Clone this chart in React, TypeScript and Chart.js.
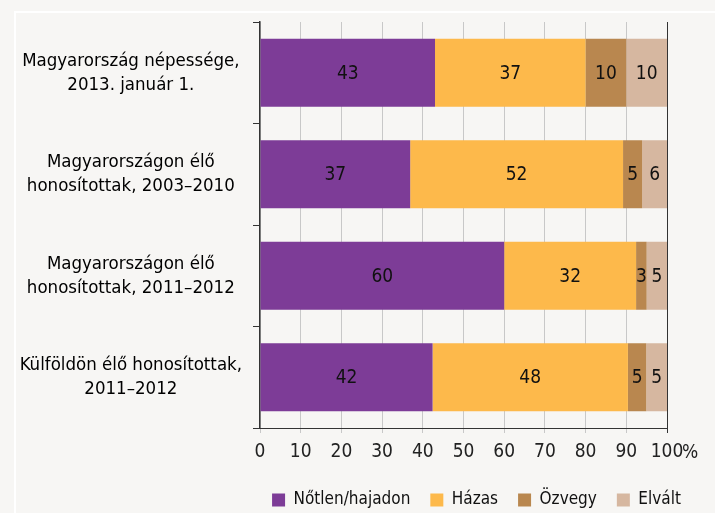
import React, { useEffect, useRef } from "react";
import { Chart, registerables } from "chart.js";

Chart.register(...registerables);

const categories: string[][] = [
  ["Magyarország népessége,", "2013. január 1."],
  ["Magyarországon élő", "honosítottak, 2003–2010"],
  ["Magyarországon élő", "honosítottak, 2011–2012"],
  ["Külföldön élő honosítottak,", "2011–2012"],
];

const seriesNames = ["Nőtlen/hajadon", "Házas", "Özvegy", "Elvált"];
const notlen = [43, 36.9, 60, 42.4];
const hazas = [37, 52.3, 32.4, 48];
const ozvegy = [10, 4.7, 2.6, 4.5];
const elvalt = [10, 6.1, 5, 5.1];
const colors = ["#7d3c97", "#fdb94b", "#b9874f", "#d6b7a0"];
const xTicks = [0, 10, 20, 30, 40, 50, 60, 70, 80, 90, 100];

const FONT = "'Liberation Sans Narrow', 'Arial Narrow', 'DejaVu Sans Condensed', sans-serif";

export default function App() {
  const ref = useRef<HTMLCanvasElement | null>(null);

  useEffect(() => {
    if (!ref.current) return;
    Chart.defaults.font.family = FONT;
    const seriesData = [notlen, hazas, ozvegy, elvalt];

    const bgPlugin = {
      id: "bgFrame",
      beforeDraw(chart: any) {
        const ctx = chart.ctx;
        ctx.save();
        ctx.fillStyle = "#f7f6f4";
        ctx.fillRect(0, 0, chart.width, chart.height);
        ctx.strokeStyle = "#ffffff";
        ctx.lineWidth = 2;
        ctx.beginPath();
        ctx.moveTo(15, chart.height);
        ctx.lineTo(15, 12);
        ctx.lineTo(chart.width, 12);
        ctx.stroke();
        ctx.restore();
      },
    };

    const legendShift = {
      id: "legendShift",
      afterLayout(chart: any) {
        const lg = chart.legend;
        if (lg) {
          lg.left += 143;
          lg.right += 143;
        }
      },
    };

    const labelPlugin = {
      id: "valueLabels",
      afterDatasetsDraw(chart: any) {
        const ctx = chart.ctx;
        ctx.save();
        ctx.font = `19px ${FONT}`;
        ctx.fillStyle = "#111";
        ctx.textAlign = "center";
        ctx.textBaseline = "middle";
        chart.data.datasets.forEach((ds: any, di: number) => {
          const meta = chart.getDatasetMeta(di);
          meta.data.forEach((bar: any, i: number) => {
            const v = ds.data[i];
            const cx = (bar.x + bar.base) / 2;
            ctx.fillText(String(Math.round(v)), cx, bar.y + 1);
          });
        });
        const xs = chart.scales.x;
        ctx.font = `19px ${FONT}`;
        ctx.textAlign = "left";
        ctx.fillStyle = "#222";
        ctx.fillText("%", xs.getPixelForValue(100) + 15, xs.top + 25);
        ctx.restore();
      },
    };

    const chart = new Chart(ref.current, {
      type: "bar",
      data: {
        labels: categories,
        datasets: seriesNames.map((name, i) => ({
          label: name,
          data: seriesData[i],
          backgroundColor: colors[i],
          borderWidth: 0,
          barPercentage: 0.67,
          categoryPercentage: 1,
        })),
      },
      options: {
        indexAxis: "y",
        animation: false,
        responsive: false,
        layout: { padding: { top: 22, right: 48, left: 0, bottom: -5.5 } },
        plugins: {
          legend: {
            position: "bottom",
            labels: {
              boxWidth: 13,
              boxHeight: 13,
              padding: 20,
              color: "#111",
              font: { size: 17, family: FONT },
            },
          },
          tooltip: { enabled: false },
        },
        scales: {
          x: {
            stacked: true,
            min: 0,
            max: 100,
            afterBuildTicks(scale: any) {
              scale.ticks = xTicks.map((v) => ({ value: v }));
            },
            afterFit(scale: any) {
              scale.height = 43.5;
            },
            grid: {
              color: (c: any) => (c.tick && c.tick.value === 100 ? "#333" : "#c8c8c8"),
              lineWidth: 1,
              tickLength: 5,
            },
            border: { display: true, color: "#333", width: 1 },
            ticks: {
              color: "#222",
              padding: 8,
              maxRotation: 0,
              font: { size: 19, family: FONT },
              callback: (v: any) => String(v),
            },
          },
          y: {
            stacked: true,
            afterFit(scale: any) {
              scale.width = 260;
              scale.paddingTop = 0;
              scale.paddingBottom = 0;
            },
            grid: {
              offset: true,
              drawOnChartArea: false,
              drawTicks: true,
              tickLength: 7,
              color: "#333",
            },
            border: { display: true, color: "#333", width: 1.5 },
            ticks: {
              crossAlign: "center",
              padding: 11,
              color: "#000",
              font: { size: 18.5, family: FONT, lineHeight: 1.3 },
            },
          },
        },
      },
      plugins: [bgPlugin, legendShift, labelPlugin],
    } as any);

    return () => chart.destroy();
  }, []);

  return (
    <div style={{ position: "absolute", left: 0, top: 0, width: 715, height: 513 }}>
      <canvas ref={ref} width={715} height={513} style={{ width: 715, height: 513 }} />
    </div>
  );
}
